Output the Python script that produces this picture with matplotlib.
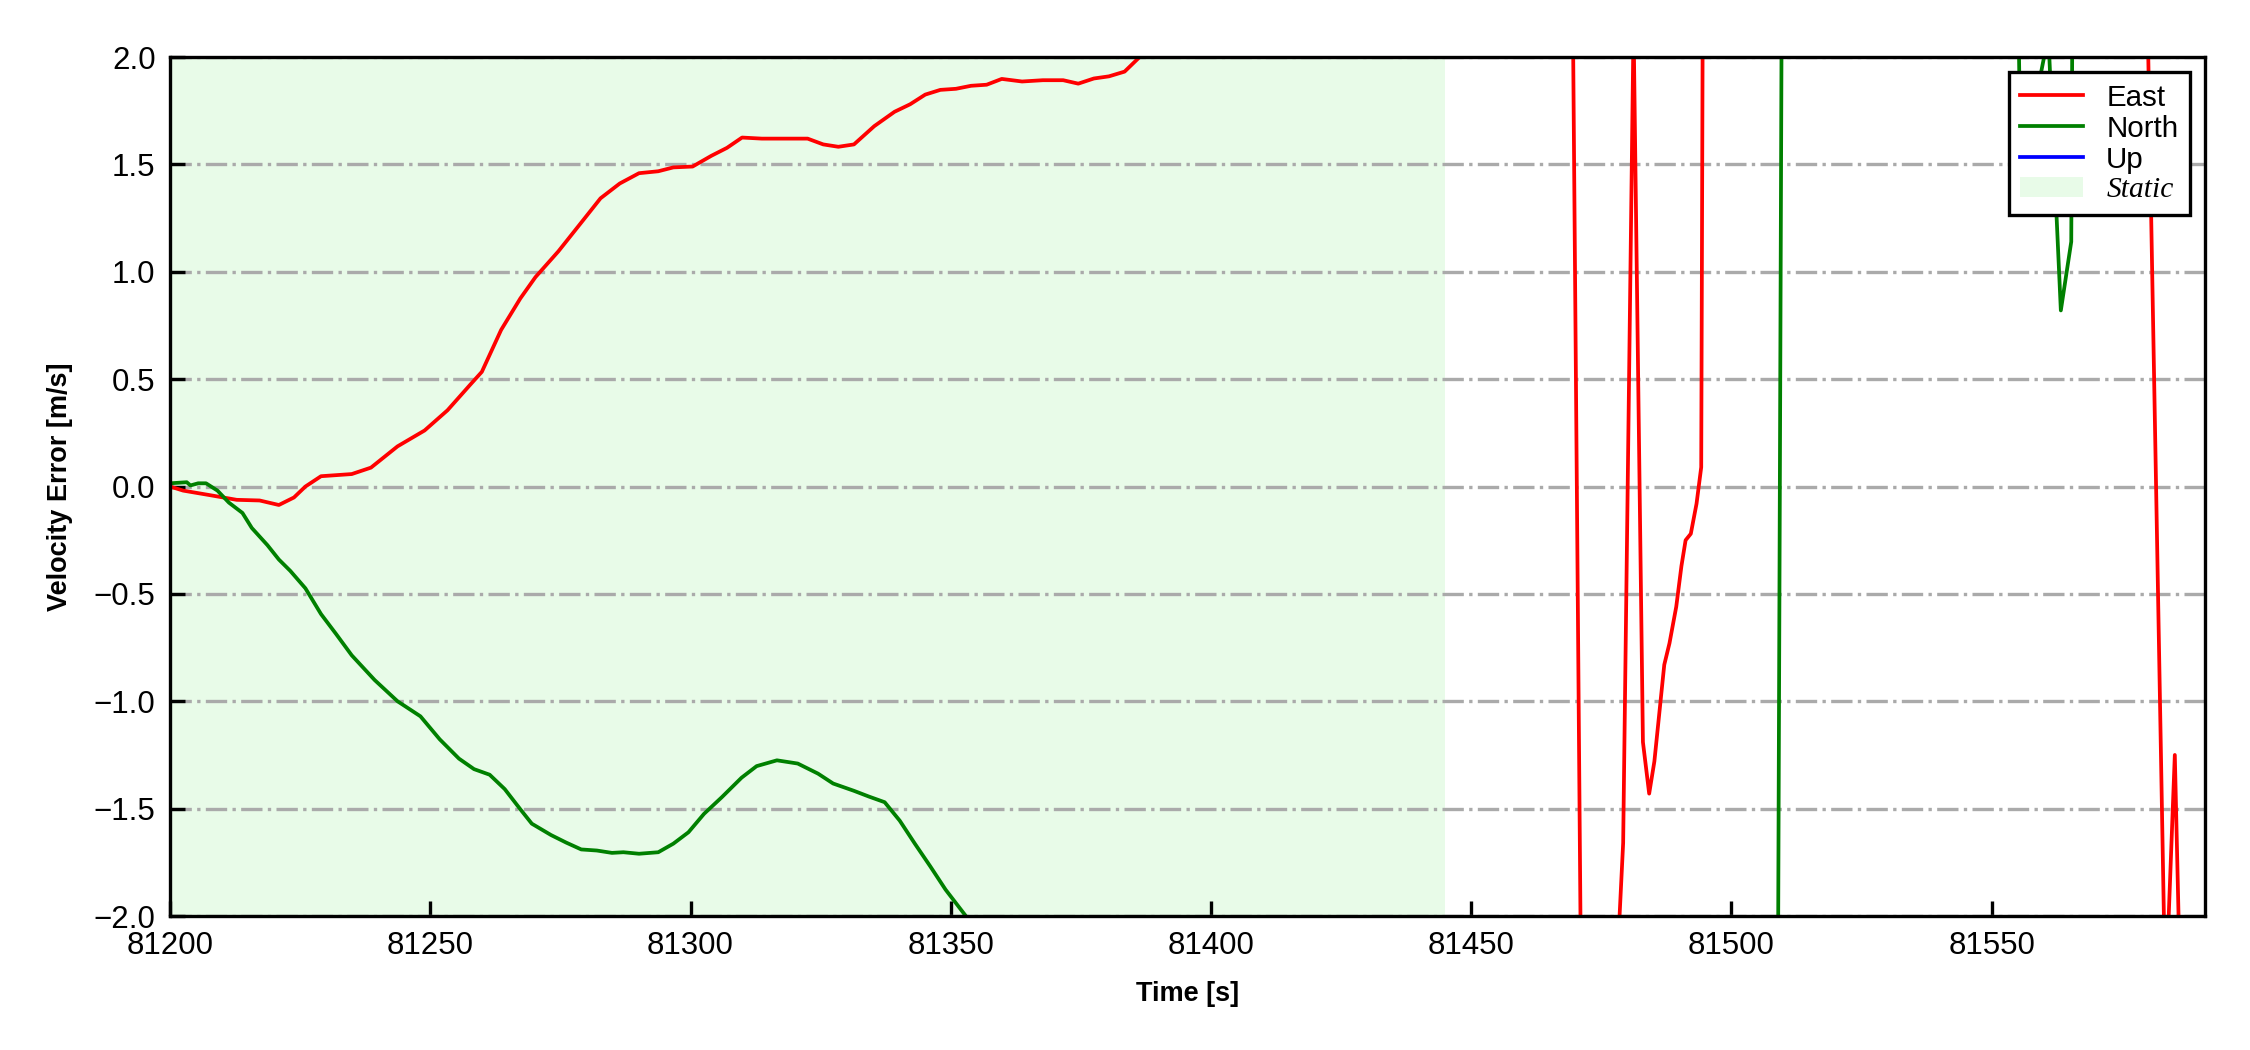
import matplotlib
matplotlib.use('Agg')
import matplotlib.pyplot as plt
import numpy as np

plt.rcParams['font.family'] = ['Liberation Sans', 'DejaVu Sans']

# velocity errors [s], [m/s]
east_t = [81200, 81202.5, 81207.6, 81212.8, 81217.2, 81220.9, 81223.8, 81226.0, 81229.0, 81234.9,
          81238.6, 81243.7, 81248.9, 81253.3, 81257.7, 81259.9, 81263.6, 81267.3, 81270.2, 81274.6,
          81279.0, 81282.7, 81286.4, 81290.1, 81293.8, 81296.7, 81300.4, 81304.0, 81307.0, 81309.9,
          81313.7, 81317.6, 81322.5, 81325.5, 81328.4, 81331.4, 81335.3, 81339.2, 81342.2, 81345.1,
          81348.0, 81351.0, 81353.9, 81356.9, 81359.8, 81363.7, 81367.7, 81371.6, 81374.5, 81377.5,
          81380.4, 81383.4, 81386.3, 81390, 81469.5, 81471.1, 81477.8, 81479.2, 81481.2, 81483.0,
          81484.2, 81485.2, 81487.1, 81488.1, 81489.4, 81490.4, 81491.2, 81492.2, 81493.3, 81494.2,
          81494.6, 81579.8, 81583.4, 81585.2, 81586.3, 81590]
east_v = [0.0, -0.019, -0.04, -0.062, -0.065, -0.086, -0.051, 0.0, 0.048, 0.058,
          0.088, 0.187, 0.261, 0.355, 0.475, 0.534, 0.729, 0.876, 0.975, 1.095,
          1.229, 1.342, 1.411, 1.459, 1.468, 1.486, 1.49, 1.54, 1.577, 1.625,
          1.62, 1.62, 1.62, 1.593, 1.582, 1.593, 1.678, 1.745, 1.78, 1.825,
          1.847, 1.852, 1.866, 1.871, 1.898, 1.886, 1.892, 1.892, 1.876, 1.9,
          1.91, 1.932, 2.0, 2.2, 2.3, -2.3, -2.35, -1.66, 2.15, -1.19,
          -1.43, -1.28, -0.83, -0.73, -0.56, -0.37, -0.25, -0.22, -0.08, 0.09,
          3.0, 2.4, -2.4, -1.25, -2.4, -3.0]

north_t = [81200, 81203.2, 81203.9, 81205.4, 81206.9, 81209.1, 81211.3, 81213.9, 81215.7, 81218.7,
           81220.9, 81223.1, 81226.0, 81229.0, 81231.9, 81234.9, 81239.3, 81243.7, 81248.1, 81251.8,
           81255.5, 81258.4, 81261.4, 81264.3, 81267.3, 81269.5, 81273.2, 81276.1, 81279.0, 81282.0,
           81284.9, 81287.1, 81290.1, 81293.8, 81296.7, 81299.6, 81302.6, 81306.0, 81309.8, 81312.7,
           81316.6, 81320.6, 81324.5, 81327.4, 81331.4, 81334.3, 81337.3, 81340.2, 81343.1, 81346.1,
           81349.0, 81352.9, 81356, 81508.9, 81509.7, 81554.9, 81555.6, 81560.9, 81563.3, 81565.3,
           81565.6, 81590]
north_v = [0.015, 0.02, 0.005, 0.015, 0.015, -0.019, -0.075, -0.123, -0.193, -0.273,
           -0.34, -0.393, -0.474, -0.594, -0.687, -0.786, -0.901, -1.0, -1.07, -1.177,
           -1.267, -1.316, -1.342, -1.409, -1.503, -1.57, -1.623, -1.658, -1.69, -1.695,
           -1.706, -1.703, -1.71, -1.703, -1.663, -1.61, -1.524, -1.447, -1.356, -1.302,
           -1.275, -1.29, -1.337, -1.383, -1.417, -1.444, -1.47, -1.556, -1.663, -1.77,
           -1.877, -2.0, -2.25, -2.6, 2.5, 2.6, 1.45, 2.1, 0.82, 1.14,
           2.6, 2.8]

# Up is in the legend but never shows inside the plotted range
up_t = []
up_v = []

static_start = 81200
static_end = 81445

xticks = np.arange(81200, 81551, 50)
yticks = np.arange(-2.0, 2.01, 0.5)

fig = plt.figure(figsize=(7.5, 3.5), dpi=300)
ax = fig.add_axes([0.0756, 0.1276, 0.9044, 0.8181])

ax.axvspan(static_start, static_end, color='#e8fbe8', lw=0, zorder=0, label='Static')
ax.plot(east_t, east_v, color='red', lw=0.9, label='East')
ax.plot(north_t, north_v, color='green', lw=0.9, label='North')
ax.plot(up_t, up_v, color='blue', lw=0.9, label='Up')

ax.set_xlim(81200, 81591)
ax.set_ylim(-2, 2)
ax.set_xticks(xticks)
ax.set_yticks(yticks)

ax.yaxis.grid(True, linestyle='-.', color='#aaaaaa', lw=0.8)
ax.tick_params(direction='in', length=3.5, width=0.8, labelsize=7.5, pad=3.5)
for s in ax.spines.values():
    s.set_linewidth(0.8)

ax.set_xlabel('Time [s]', fontsize=6.5, fontweight='bold', labelpad=5)
ax.set_ylabel('Velocity Error [m/s]', fontsize=6.5, fontweight='bold', labelpad=5)

handles, labels = ax.get_legend_handles_labels()
order = [labels.index(k) for k in ['East', 'North', 'Up', 'Static']]
leg = ax.legend([handles[i] for i in order], [labels[i] for i in order],
                loc='upper right', fontsize=7.1, fancybox=False, framealpha=1,
                edgecolor='black', labelspacing=0.1, handlelength=2.1)
leg.get_frame().set_linewidth(0.8)
st = leg.get_texts()[3]
st.set_fontfamily('Liberation Serif')
st.set_fontstyle('italic')

fig.savefig('out.png', dpi=300)
